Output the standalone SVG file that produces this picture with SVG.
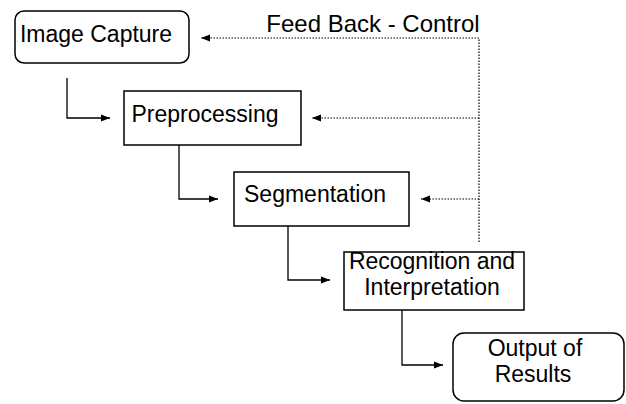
<svg xmlns="http://www.w3.org/2000/svg" width="626" height="404" viewBox="0 0 626 404">
<style>
.box{fill:#fff;stroke:#000;stroke-width:1.5}
.lbl{font-family:"Liberation Sans",Arial,sans-serif;font-size:23px;fill:#000;text-anchor:middle}
.flow{fill:none;stroke:#000;stroke-width:1.3}
.fb{fill:none;stroke:#000;stroke-width:1.2;stroke-dasharray:1.5 1.5}
</style>
<defs>
<marker id="ah" markerUnits="userSpaceOnUse" markerWidth="10" markerHeight="8" refX="9" refY="4" orient="auto">
<path d="M0,0.5 L9,4 L0,7.5 z" fill="#000"/>
</marker>
</defs>
<rect width="626" height="404" fill="#fff"/>
<g id="connectors">
<path class="flow" d="M67,78 V118 H110" marker-end="url(#ah)"/>
<path class="flow" d="M179,145 V199 H218" marker-end="url(#ah)"/>
<path class="flow" d="M288,226 V280 H330" marker-end="url(#ah)"/>
<path class="flow" d="M402,310 V365 H443" marker-end="url(#ah)"/>
<path class="fb" d="M479,242 V38 H201" marker-end="url(#ah)"/>
<path class="fb" d="M479,118 H312" marker-end="url(#ah)"/>
<path class="fb" d="M479,199 H421" marker-end="url(#ah)"/>
<text class="lbl" x="373" y="32" style="font-size:24px">Feed Back - Control</text>
</g>
<g id="image-capture">
<rect class="box" x="15" y="11" width="174" height="52" rx="9"/>
<text class="lbl" x="96" y="42">Image Capture</text>
</g>
<g id="preprocessing">
<rect class="box" x="124" y="91" width="177" height="54"/>
<text class="lbl" x="205" y="122">Preprocessing</text>
</g>
<g id="segmentation">
<rect class="box" x="234" y="172" width="175" height="54"/>
<text class="lbl" x="315" y="202">Segmentation</text>
</g>
<g id="recognition">
<rect class="box" x="344" y="252" width="180" height="58"/>
<text class="lbl" x="432" y="269">Recognition and</text>
<text class="lbl" x="432" y="295">Interpretation</text>
</g>
<g id="output">
<rect class="box" x="453" y="333" width="171" height="68" rx="11"/>
<text class="lbl" x="535" y="356">Output of</text>
<text class="lbl" x="533" y="382">Results</text>
</g>
</svg>
